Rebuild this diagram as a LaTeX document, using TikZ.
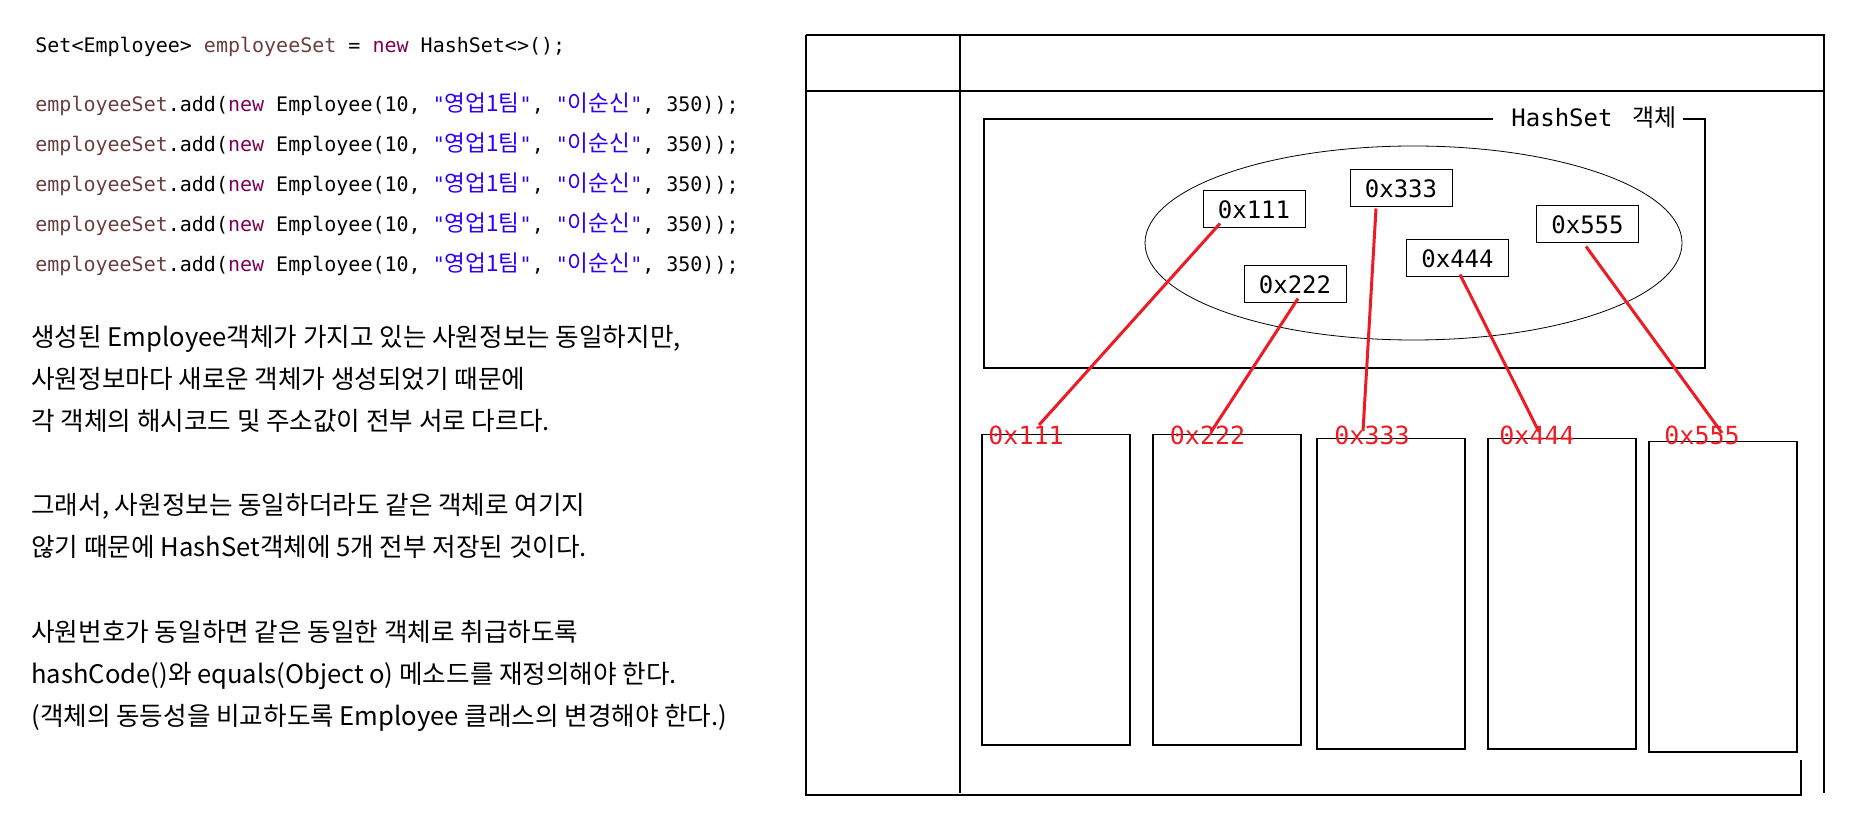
\documentclass[tikz,border=0pt]{standalone}
\usepackage{fontspec}
\setmonofont{DejaVu Sans Mono}
\newfontfamily\kr{Noto Sans CJK KR}
\usetikzlibrary{calc,shapes.geometric}
\definecolor{varbrown}{HTML}{6A3E3E}
\definecolor{keyplum}{HTML}{7F0055}
\definecolor{strblue}{HTML}{2A00FF}
\definecolor{addrred}{HTML}{ED1C24}
\tikzset{
  codeln/.style={anchor=base west, inner sep=0pt,
                 font=\ttfamily\fontsize{10pt}{12pt}\selectfont},
  note/.style={anchor=base west, inner sep=0pt, align=left,
               font=\kr\fontsize{12.8pt}{21pt}\selectfont},
  outline/.style={line width=0.75pt, draw=black},
  addr/.style={draw, line width=0.5pt, minimum width=51pt, minimum height=18.5pt,
               inner sep=0pt, font=\ttfamily\fontsize{12pt}{14pt}\selectfont},
  slot/.style={draw, line width=0.75pt, minimum width=74pt, minimum height=155pt,
               inner sep=0pt, anchor=north west},
  tag/.style={anchor=base west, inner sep=0pt, text=addrred,
              font=\ttfamily\fontsize{12.5pt}{14pt}\selectfont},
  link/.style={draw=addrred, line width=1.5pt},
}
\newcommand{\hangul}[1]{{\kr\fontsize{11.3pt}{12pt}\selectfont #1}}
\newcommand{\addcall}{\textcolor{varbrown}{employeeSet}.add(\textcolor{keyplum}{new} Employee(10, \textcolor{strblue}{"\hangul{영업1팀}"}, \textcolor{strblue}{"\hangul{이순신}"}, 350));}

\begin{document}
\begin{tikzpicture}[x=0.5pt, y=-0.5pt]
\useasboundingbox (0,0) rectangle (1855,838);

% ---------------- code and notes (left) ----------------
\node[codeln] (decl) at (35,53) {Set<Employee> \textcolor{varbrown}{employeeSet} = \textcolor{keyplum}{new} HashSet<>();};
\foreach \yy [count=\i] in {112,152,192,232,272}
  \node[codeln] (add\i) at (35,\yy) {\addcall};

% base anchor sits on the last line
\node[note] (para1) at (31,431) {생성된 Employee객체가 가지고 있는 사원정보는 동일하지만,\\사원정보마다 새로운 객체가 생성되었기 때문에\\각 객체의 해시코드 및 주소값이 전부 서로 다르다.};
\node[note] (para2) at (31,557) {그래서, 사원정보는 동일하더라도 같은 객체로 여기지\\않기 때문에 HashSet객체에 5개 전부 저장된 것이다.};
\node[note] (para3) at (31,725) {사원번호가 동일하면 같은 동일한 객체로 취급하도록\\hashCode()와 equals(Object o) 메소드를 재정의해야 한다.\\(객체의 동등성을 비교하도록 Employee 클래스의 변경해야 한다.)};

% ---------------- memory frame (right) ----------------
\draw[outline] (806,35) -- (1824,35) -- (1824,793);
\draw[outline] (806,35) -- (806,795) -- (1801,795) -- (1801,760);
\draw[outline] (806,91) -- (1825,91);
\draw[outline] (960,35) -- (960,793);

% HashSet object
\draw[line width=0.6pt] (984,119) rectangle (1705,368);
\node[fill=white, inner xsep=3pt, inner ysep=2pt, anchor=base west,
      font=\ttfamily\fontsize{12pt}{14pt}\selectfont] (hstitle) at (1493,127)
  {\hspace*{6pt}HashSet\hspace{10pt}{\kr 객체}};
\node[draw, ellipse, line width=0.4pt, minimum width=268.5pt, minimum height=97pt,
      inner sep=0pt] (bucket) at (1413.5,243) {};

\node[addr] (b111) at (1254,209.5)   {0x111};
\node[addr] (b333) at (1401,188.5)   {0x333};
\node[addr] (b555) at (1587.5,224.5) {0x555};
\node[addr] (b444) at (1457.5,258.5) {0x444};
\node[addr] (b222) at (1295,284.5)   {0x222};

% heap objects
\node[slot] (s111) at (981,434)  {};
\node[slot] (s222) at (1152,434) {};
\node[slot] (s333) at (1316,438) {};
\node[slot] (s444) at (1487,438) {};
\node[slot] (s555) at (1648,441) {};

\node[tag] (l111) at (988,445)    {0x111};
\node[tag] (l222) at (1169.5,445) {0x222};
\node[tag] (l333) at (1334,445)   {0x333};
\node[tag] (l444) at (1499,445)   {0x444};
\node[tag] (l555) at (1664,445)   {0x555};

% references
\draw[link] ($(b111.south)+(-34,-5)$) -- ($(l111.base west)+(51,-20)$);
\draw[link] ($(b222.south)+(3,-5)$)   -- ($(l222.base west)+(41.5,-13)$);
\draw[link] ($(b333.south)+(-25,1)$)  -- ($(l333.base west)+(29,-14)$);
\draw[link] ($(b444.south)+(2.5,-3)$) -- ($(l444.base west)+(40,-13)$);
\draw[link] ($(b555.south)+(-1.5,3)$) -- ($(l555.base west)+(58,-12)$);
\end{tikzpicture}
\end{document}
